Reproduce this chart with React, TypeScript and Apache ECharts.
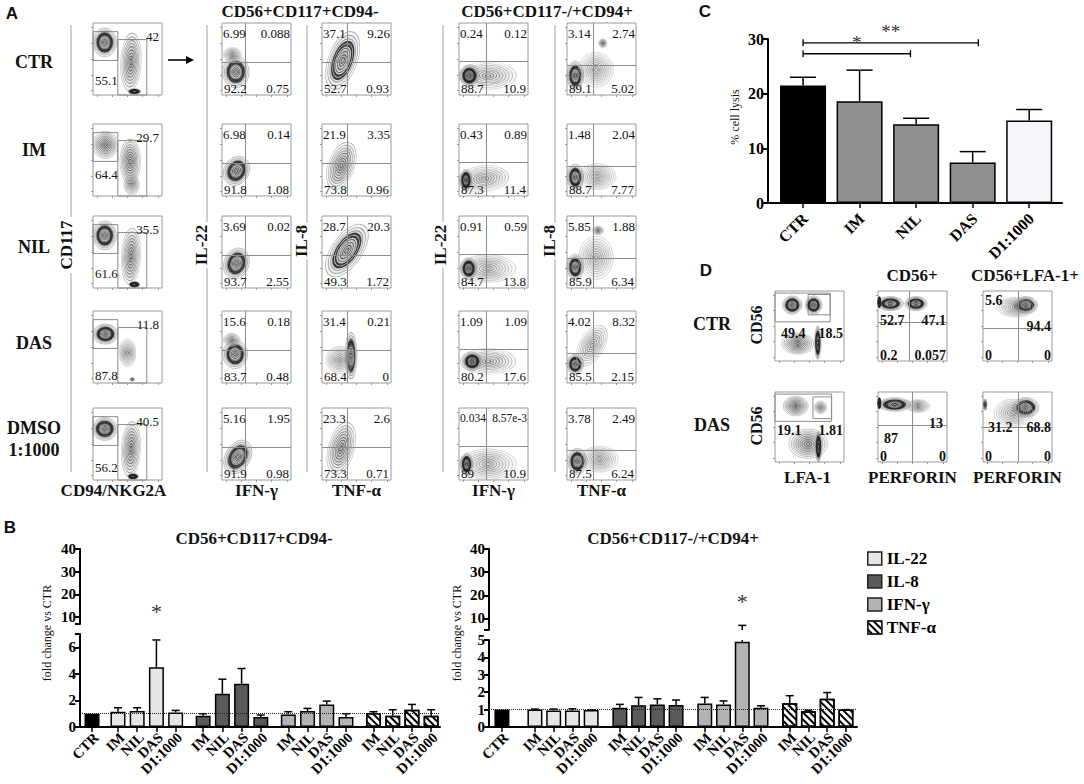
import React, { useEffect, useRef } from "react";
import * as echarts from "echarts";

const SERIF = "'Liberation Serif','Times New Roman',serif";
const SANS = "'Liberation Sans',Arial,sans-serif";

// ---------------- Panel A data ----------------
const rowNamesA = ["CTR", "IM", "NIL", "DAS", "DMSO"];
const colTitlesA = ["CD56+CD117+CD94-", "CD56+CD117-/+CD94+"];
const yLabelsA = ["CD117", "IL-22", "IL-8", "IL-22", "IL-8"];
const xLabelsA = ["CD94/NKG2A", "IFN-γ", "TNF-α", "IFN-γ", "TNF-α"];
const gatePctCol1 = [["42", "55.1"], ["29.7", "64.4"], ["35.5", "61.6"], ["11.8", "87.8"], ["40.5", "56.2"]];
const quadIL22a = [["6.99", "0.088", "92.2", "0.75"], ["6.98", "0.14", "91.8", "1.08"], ["3.69", "0.02", "93.7", "2.55"], ["15.6", "0.18", "83.7", "0.48"], ["5.16", "1.95", "91.9", "0.98"]];
const quadIL8a = [["37.1", "9.26", "52.7", "0.93"], ["21.9", "3.35", "73.8", "0.96"], ["28.7", "20.3", "49.3", "1.72"], ["31.4", "0.21", "68.4", "0"], ["23.3", "2.6", "73.3", "0.71"]];
const quadIL22b = [["0.24", "0.12", "88.7", "10.9"], ["0.43", "0.89", "87.3", "11.4"], ["0.91", "0.59", "84.7", "13.8"], ["1.09", "1.09", "80.2", "17.6"], ["0.034", "8.57e-3", "89", "10.9"]];
const quadIL8b = [["3.14", "2.74", "89.1", "5.02"], ["1.48", "2.04", "88.7", "7.77"], ["5.85", "1.88", "85.9", "6.34"], ["4.02", "8.32", "85.5", "2.15"], ["3.78", "2.49", "87.5", "6.24"]];
const quadXA = [null, 34, 37, 40, 38];
const quadYA = [null, 45, 45, 47, 42];
const gatesCol1 = [[0, 36, 48, 88], [36, 78, 0, 77]];
// contour blobs: [cx, cy, w, h, rotation, density]
const blobsCol1 = [
  [[17, 73, 34, 40, 0, 2], [55, 46, 30, 80, -3, 1], [60, 5, 18, 8, 0, 2]],
  [[18, 71, 36, 38, 0, 1], [54, 48, 30, 62, 0, 1], [56, 16, 22, 30, 0, 0]],
  [[17, 73, 34, 40, 0, 2], [55, 44, 28, 78, -3, 1], [60, 5, 16, 8, 0, 2]],
  [[18, 68, 36, 28, 0, 2], [50, 42, 24, 38, 0, 0], [57, 5, 7, 5, 0, 0]],
  [[17, 71, 36, 32, 0, 2], [55, 43, 28, 76, -3, 1], [58, 5, 16, 8, 0, 2]],
];
const blobsCol2 = [
  [[20, 32, 38, 44, 0, 2], [15, 56, 26, 20, 0, 0]],
  [[21, 35, 36, 42, -30, 2]],
  [[21, 34, 36, 44, -20, 2]],
  [[19, 40, 36, 40, 0, 2], [14, 60, 24, 18, 0, 0]],
  [[23, 32, 36, 50, -30, 2]],
];
const blobsCol3 = [
  [[30, 48, 42, 84, -20, 2]],
  [[28, 42, 38, 68, -20, 1]],
  [[36, 52, 44, 84, -35, 2]],
  [[42, 38, 18, 64, 0, 2], [26, 32, 40, 38, 0, 0]],
  [[28, 44, 38, 74, -15, 1]],
];
const blobsCol4 = [
  [[42, 27, 82, 38, 0, 0], [15, 27, 28, 30, 0, 2]],
  [[36, 24, 72, 36, 5, 0], [10, 22, 18, 30, 0, 2]],
  [[42, 27, 80, 38, 0, 0], [14, 27, 24, 30, 0, 2]],
  [[42, 30, 80, 36, 0, 0], [19, 30, 28, 26, 0, 2]],
  [[42, 22, 82, 42, 0, 0], [11, 22, 18, 30, 0, 2]],
];
const blobsCol5 = [
  [[12, 27, 24, 40, 0, 2], [42, 35, 50, 48, 0, 0], [52, 72, 12, 12, 0, 0]],
  [[12, 26, 24, 36, 0, 2], [44, 27, 54, 36, 0, 0]],
  [[12, 29, 24, 36, 0, 2], [42, 42, 50, 60, 0, 0], [45, 80, 16, 12, 0, 0]],
  [[12, 26, 24, 28, 0, 2], [36, 52, 36, 62, -30, 0]],
  [[15, 26, 28, 36, 0, 2], [47, 29, 54, 36, 0, 0]],
];

// ---------------- Panel B data ----------------
const condNames = ["CTR", "IM", "NIL", "DAS", "D1:1000"];
const cytokines = ["IL-22", "IL-8", "IFN-γ", "TNF-α"];
const bCtrValue = 1.0;
const bLeftMean = [[1.15, 1.2, 4.5, 1.1], [0.85, 2.5, 3.25, 0.75], [0.95, 1.2, 1.7, 0.75], [1.05, 0.85, 1.3, 0.85]];
const bLeftErr = [[1.45, 1.45, 6.55, 1.25], [1.0, 3.6, 4.4, 0.9], [1.15, 1.4, 1.95, 1.0], [1.15, 1.3, 1.7, 1.3]];
const bRightMean = [[1.0, 0.95, 0.95, 0.97], [1.1, 1.25, 1.3, 1.27], [1.35, 1.3, 4.9, 1.1], [1.37, 0.9, 1.62, 1.0]];
const bRightErr = [[1.03, 1.03, 1.05, 0.99], [1.3, 1.7, 1.62, 1.55], [1.7, 1.5, 7.0, 1.22], [1.8, 0.97, 1.98, 1.0]];
const bLeftSig = [[0, 2, 12.7]]; // [cytokine, condition, star y]
const bRightSig = [[2, 2, 17.1]];

// ---------------- Panel C data ----------------
const lysisCats = ["CTR", "IM", "NIL", "DAS", "D1:1000"];
const lysisMean = [21.5, 18.6, 14.4, 7.4, 15.1];
const lysisErr = [23.0, 24.3, 15.5, 9.4, 17.1];
const lysisSig = [[0, 3.1, 29.3], [0, 1.9, 27.3]];
const lysisSigText = ["**", "*"];

// ---------------- Panel D data ----------------
const dRows = ["CTR", "DAS"];
const dTitles = ["CD56+", "CD56+LFA-1+"];
const dXLabels = ["LFA-1", "PERFORIN", "PERFORIN"];
const dNumbers = [
  [["49.4", "18.5"], ["52.7", "47.1", "0.2", "0.057"], ["5.6", "94.4", "0", "0"]],
  [["19.1", "1.81"], ["13", "87", "0", "0"], ["31.2", "68.8", "0", "0"]],
];
const dQuadX = [[null, 46, 51], [null, 50, 51]];
const dQuadY = [[null, 56, 47], [null, 53, 49]];
const dGates = [[[0, 80, 56, 97], [48, 80, 66, 95]], [[0, 82, 58, 97], [55, 82, 62, 93]]];
const dBlobs = [
  [
    [[25, 80, 28, 26, 0, 2], [56, 80, 24, 26, 0, 2], [33, 25, 46, 30, 0, 1], [62, 26, 10, 46, 0, 2]],
    [[18, 82, 38, 20, 0, 2], [55, 82, 32, 20, 0, 2], [2, 84, 5, 16, 0, 2]],
    [[62, 80, 34, 24, 0, 2], [48, 77, 56, 28, 0, 0]],
  ],
  [
    [[30, 80, 36, 28, 0, 1], [66, 78, 18, 18, 0, 0], [48, 26, 56, 42, 0, 1], [63, 22, 10, 42, 0, 2]],
    [[24, 82, 46, 20, 0, 2], [58, 80, 34, 18, 0, 0], [2, 84, 5, 16, 0, 2]],
    [[62, 78, 38, 28, 0, 2], [44, 70, 56, 40, 0, 0], [3, 82, 6, 16, 0, 1]],
  ],
];

// ---------------- layout ----------------
const A_LEFT = [93, 222, 322, 459, 567];
const A_TOP = [23, 124, 216, 311, 408];
const PW = 69;
const PH = 72;
const D_LEFT = [775, 878, 983];
const D_TOP = [291, 392];
const DW = 69;
const DH = 70;
// layout of numbers in D plots: [dx, dy, align] ("r" offsets from right, negative dy from bottom)
const dNumLayout = [
  [[[6, 42, "l"], [1, 42, "r"]], [[2, 29, "l"], [1, 29, "r"], [2, -6, "l"], [1, -6, "r"]], [[2, 9, "l"], [1, 35, "r"], [2, -6, "l"], [1, -6, "r"]]],
  [[[2, 38, "l"], [1, 38, "r"]], [[4, 31, "r"], [6, 46, "l"], [2, -6, "l"], [1, -6, "r"]], [[5, 35, "l"], [1, 35, "r"], [2, -6, "l"], [1, -6, "r"]]],
];

const ELLIPSE = "path://M0,50 C0,22 22,0 50,0 C78,0 100,22 100,50 C100,78 78,100 50,100 C22,100 0,78 0,50 Z";
const RINGS = [1, 0.87, 0.75, 0.64, 0.53, 0.42, 0.31, 0.2, 0.1];
const HATCH = { symbol: "rect", symbolSize: 1, color: "#000", dashArrayX: [1, 0], dashArrayY: [1.3, 2.4], rotation: Math.PI / 4 };
const CYT_COLORS = ["#e6e6e6", "#5a5a5a", "#b3b3b3", "#ffffff"];

function ringItems(b: number[], W: number, H: number) {
  const [cx, cy, w, h, rot, dens] = b;
  const out: any[] = [];
  RINGS.forEach((f, k) => {
    let shade = dens === 0 ? 185 - k * 12 : dens === 1 ? 165 - k * 16 : 150 - k * 18;
    shade = Math.max(25, shade);
    const thick = dens === 2 && (k === 3 || k === 4);
    out.push({
      value: [cx, cy],
      symbolSize: [Math.max(2, (w / 100) * W * f), Math.max(2, (h / 100) * H * f)],
      symbolRotate: rot,
      itemStyle: {
        color: dens === 0 ? "rgba(70,70,70,0.035)" : "rgba(60,60,60,0.06)",
        borderColor: thick ? "#151515" : `rgb(${shade},${shade},${shade})`,
        borderWidth: thick ? 1.8 : 0.7,
      },
    });
  });
  return out;
}

function buildOption() {
  const grids: any[] = [];
  const xAxes: any[] = [];
  const yAxes: any[] = [];
  const series: any[] = [];
  const g: any[] = [];

  const text = (x: number, y: number, s: string, o: any = {}) =>
    g.push({
      type: "text",
      x,
      y,
      rotation: o.rot || 0,
      silent: true,
      z: 100,
      style: {
        text: s,
        fontFamily: o.ff || SERIF,
        fontSize: o.fs || 13,
        fontWeight: o.fw || "normal",
        fill: o.fill || "#111",
        align: o.align || "left",
        verticalAlign: o.va || "middle",
      },
    });
  const line = (x1: number, y1: number, x2: number, y2: number, stroke = "#a0a0a0", w = 1) =>
    g.push({ type: "line", silent: true, z: 100, shape: { x1, y1, x2, y2 }, style: { stroke, lineWidth: w } });

  // rotated category labels drawn at the axis positions through the grid's scale
  function axisTextSeries(gi: number, pos: number[], labels: string[], dx: number, dy: number, fs: number) {
    series.push({
      type: "custom",
      xAxisIndex: gi,
      yAxisIndex: gi,
      silent: true,
      clip: false,
      z: 5,
      data: pos.map((x) => [x, 0]),
      renderItem: (p: any, api: any) => {
        const c = api.coord([api.value(0), 0]);
        return {
          type: "text",
          x: c[0] + dx,
          y: c[1] + dy,
          rotation: Math.PI / 4,
          style: { text: labels[p.dataIndex], fontFamily: SERIF, fontWeight: "bold", fontSize: fs, fill: "#000", align: "right", verticalAlign: "middle" },
        };
      },
    });
  }

  function addFlow(L: number, T: number, W: number, H: number, blobs: number[][], qx: any, qy: any, gates: any) {
    const idx = grids.length;
    grids.push({ left: L, top: T, width: W, height: H, show: true, borderColor: "#9a9a9a", borderWidth: 1, backgroundColor: "rgba(0,0,0,0)", outerBoundsMode: "none" });
    const ax = {
      gridIndex: idx,
      type: "value",
      min: 0,
      max: 100,
      axisLine: { show: false, onZero: false },
      splitLine: { show: false },
      axisLabel: { show: false },
      axisTick: { show: true, length: 2, lineStyle: { color: "#999", width: 1 }, customValues: [6, 28, 50, 72, 94] },
    };
    xAxes.push({ ...ax });
    yAxes.push({ ...ax });
    const data: any[] = [];
    blobs.forEach((b) => data.push(...ringItems(b, W, H)));
    const s: any = { type: "scatter", xAxisIndex: idx, yAxisIndex: idx, symbol: ELLIPSE, data, silent: true, z: 2 };
    if (qx != null)
      s.markLine = {
        silent: true,
        symbol: ["none", "none"],
        label: { show: false },
        lineStyle: { color: "#8c8c8c", width: 1, type: "solid" },
        data: [{ xAxis: qx }, { yAxis: qy }],
      };
    if (gates)
      s.markArea = {
        silent: true,
        label: { show: false },
        itemStyle: { color: "rgba(0,0,0,0)", borderColor: "#8c8c8c", borderWidth: 1 },
        data: gates.map((q: number[]) => [{ xAxis: q[0], yAxis: q[2] }, { xAxis: q[1], yAxis: q[3] }]),
      };
    series.push(s);
  }

  // ============ Panel A ============
  text(12, 13, "A", { ff: SANS, fw: "bold", fs: 17, align: "center" });
  text(300, 11, colTitlesA[0], { fw: "bold", fs: 17, align: "center" });
  text(547, 11, colTitlesA[1], { fw: "bold", fs: 17, align: "center" });
  const rowY = [62, 150, 247, 343, 428];
  rowNamesA.forEach((n, r) => text(34, rowY[r], n, { fw: "bold", fs: 18, align: "center" }));
  text(34, 450, "1:1000", { fw: "bold", fs: 18, align: "center" });

  const sepX = [71, 207, 307, 443, 555];
  const labX = [66, 201, 301, 440, 549];
  const labY = [245, 245, 241, 245, 241];
  const halfLen = [28, 23, 18, 23, 18];
  yLabelsA.forEach((lab, c) => {
    line(sepX[c], 25, sepX[c], labY[c] - halfLen[c]);
    line(sepX[c], labY[c] + halfLen[c], sepX[c], 472);
    text(labX[c], labY[c], lab, { fw: "bold", fs: 17, align: "center", rot: Math.PI / 2 });
  });
  xLabelsA.forEach((lab, c) => text(A_LEFT[c] + PW / 2 - (c === 0 ? 14 : 0), 490, lab, { fw: "bold", fs: 17, align: "center" }));
  // arrow
  line(168, 60, 188, 60, "#000", 1.6);
  g.push({ type: "polygon", silent: true, shape: { points: [[194, 60], [186, 56], [186, 64]] }, style: { fill: "#000" } });

  const colBlobs = [blobsCol1, blobsCol2, blobsCol3, blobsCol4, blobsCol5];
  const colQuads = [null, quadIL22a, quadIL8a, quadIL22b, quadIL8b];
  const col1NumY = [57, 50, 57, 64, 59];
  for (let c = 0; c < 5; c++) {
    for (let r = 0; r < 5; r++) {
      const L = A_LEFT[c];
      const T = A_TOP[r];
      addFlow(L, T, PW, PH, colBlobs[c][r], quadXA[c], quadYA[c], c === 0 ? gatesCol1 : null);
      if (c === 0) {
        text(L + PW - 3, T + 13, gatePctCol1[r][0], { align: "right" });
        text(L + 2, T + col1NumY[r], gatePctCol1[r][1]);
      } else {
        const q = (colQuads[c] as string[][])[r];
        const long = q[0].length + q[1].length > 10;
        const fs = long ? 11.5 : 13;
        text(L + 1, T + 10, q[0], { fs });
        text(L + PW - 1, T + 10, q[1], { align: "right", fs });
        text(L + 2, T + PH - 7, q[2]);
        text(L + PW - 2, T + PH - 7, q[3], { align: "right" });
      }
    }
  }

  // ============ Panel D ============
  text(706, 270, "D", { ff: SANS, fw: "bold", fs: 17, align: "center" });
  text(912, 275, dTitles[0], { fw: "bold", fs: 17, align: "center" });
  text(1025, 275, dTitles[1], { fw: "bold", fs: 17, align: "center" });
  dXLabels.forEach((l, c) => text(D_LEFT[c] + DW / 2 + (c === 0 ? -2 : 0), 477, l, { fw: "bold", fs: 17, align: "center" }));
  for (let r = 0; r < 2; r++) {
    text(712, D_TOP[r] + 33, dRows[r], { fw: "bold", fs: 18, align: "center" });
    text(756, D_TOP[r] + 34, "CD56", { fw: "bold", fs: 16, align: "center", rot: Math.PI / 2 });
    for (let c = 0; c < 3; c++) {
      const L = D_LEFT[c];
      const T = D_TOP[r];
      addFlow(L, T, DW, DH, dBlobs[r][c], dQuadX[r][c], dQuadY[r][c], c === 0 ? dGates[r] : null);
      dNumbers[r][c].forEach((s, k) => {
        const [dx, dy, al] = dNumLayout[r][c][k] as any[];
        const x = al === "r" ? L + DW - dx : L + dx;
        const y = dy < 0 ? T + DH + dy : T + dy;
        text(x, y, s, { fw: "bold", fs: 14, align: al === "r" ? "right" : "left" });
      });
    }
  }

  // ============ Panel B ============
  text(10, 527, "B", { ff: SANS, fw: "bold", fs: 17, align: "center" });
  function addFold(cfg: any) {
    const { left, width, lowTop, lowH, upTop, upH, lowMax, upMin, xmin, xmax, gap, stride, means, errs, lowTicks, lowLabels, sig } = cfg;
    const pos: number[] = [0];
    const labels: string[] = [condNames[0]];
    const items: any[] = [{ value: [0, bCtrValue], itemStyle: { color: "#000" } }];
    const errData: number[][] = [];
    for (let c = 0; c < 4; c++) {
      for (let i = 0; i < 4; i++) {
        const x = gap + c * stride + i;
        pos.push(x);
        labels.push(condNames[i + 1]);
        items.push({ value: [x, means[c][i]], itemStyle: c === 3 ? { color: "#fff", decal: HATCH } : { color: CYT_COLORS[c] } });
        errData.push([x, means[c][i], errs[c][i]]);
      }
    }
    const iLow = grids.length;
    grids.push({ left, top: lowTop, width, height: lowH, outerBoundsMode: "none" });
    const iUp = grids.length;
    grids.push({ left, top: upTop, width, height: upH, outerBoundsMode: "none" });
    xAxes.push({
      gridIndex: iLow,
      type: "value",
      min: xmin,
      max: xmax,
      splitLine: { show: false },
      axisLine: { show: true, onZero: false, lineStyle: { color: "#000", width: 2 } },
      axisTick: { show: true, customValues: pos, length: 5, lineStyle: { color: "#000", width: 1.5 } },
      axisLabel: { show: false },
    });
    xAxes.push({ gridIndex: iUp, type: "value", min: xmin, max: xmax, show: false });
    const yStyle = {
      type: "value",
      splitLine: { show: false },
      axisLine: { show: true, onZero: false, lineStyle: { color: "#000", width: 2 } },
    };
    yAxes.push({
      ...yStyle,
      gridIndex: iLow,
      min: 0,
      max: lowMax,
      axisTick: { show: true, customValues: lowTicks, length: 5, lineStyle: { color: "#000", width: 2 } },
      axisLabel: { customValues: lowLabels, showMinLabel: true, showMaxLabel: true, fontFamily: SERIF, fontWeight: "bold", fontSize: 15, color: "#000", margin: 4 },
    });
    yAxes.push({
      ...yStyle,
      gridIndex: iUp,
      min: upMin,
      max: 40,
      axisTick: { show: true, customValues: [upMin, 10, 20, 30, 40], length: 5, lineStyle: { color: "#000", width: 2 } },
      axisLabel: { customValues: [10, 20, 30, 40], showMinLabel: true, showMaxLabel: true, fontFamily: SERIF, fontWeight: "bold", fontSize: 15, color: "#000", margin: 4 },
    });
    series.push({
      type: "bar",
      xAxisIndex: iLow,
      yAxisIndex: iLow,
      barWidth: 15,
      silent: true,
      data: items,
      itemStyle: { borderColor: "#000", borderWidth: 1.5 },
      markLine: {
        silent: true,
        symbol: ["none", "none"],
        label: { show: false },
        lineStyle: { type: "dotted", color: "#222", width: 1 },
        data: [{ yAxis: 1 }],
      },
      z: 3,
    });
    axisTextSeries(iLow, pos, labels, 4, 8, 14.5);
    const seg = (x1: number, y1: number, x2: number, y2: number, w = 1.5) => ({ type: "line", shape: { x1, y1, x2, y2 }, style: { stroke: "#000", lineWidth: w } });
    series.push({
      type: "custom",
      xAxisIndex: iLow,
      yAxisIndex: iLow,
      silent: true,
      clip: false,
      z: 4,
      data: errData,
      renderItem: (p: any, api: any) => {
        const x = api.value(0);
        const m = api.value(1);
        const e = api.value(2);
        const a = api.coord([x, m]);
        const b = api.coord([x, Math.min(e, lowMax)]);
        const ch: any[] = [seg(a[0], a[1], b[0], b[1])];
        if (e <= lowMax) ch.push(seg(b[0] - 4, b[1], b[0] + 4, b[1]));
        return { type: "group", children: ch };
      },
    });
    series.push({
      type: "custom",
      xAxisIndex: iUp,
      yAxisIndex: iUp,
      silent: true,
      clip: false,
      z: 4,
      data: errData.filter((d) => d[2] > upMin),
      renderItem: (p: any, api: any) => {
        const x = api.value(0);
        const e = api.value(2);
        const a = api.coord([x, upMin]);
        const b = api.coord([x, e]);
        return { type: "group", children: [seg(a[0], a[1], b[0], b[1]), seg(b[0] - 4, b[1], b[0] + 4, b[1])] };
      },
    });
    series.push({
      type: "custom",
      xAxisIndex: iUp,
      yAxisIndex: iUp,
      silent: true,
      clip: false,
      z: 4,
      data: sig.map((s: number[]) => [gap + s[0] * stride + s[1], s[2]]),
      renderItem: (p: any, api: any) => {
        const c = api.coord([api.value(0), api.value(1)]);
        return { type: "text", x: c[0], y: c[1], style: { text: "*", fontFamily: SERIF, fontSize: 22, fill: "#333", align: "center", verticalAlign: "middle" } };
      },
    });
  }
  addFold({
    left: 80, width: 360, lowTop: 634, lowH: 93, upTop: 549, upH: 75, lowMax: 7, upMin: 7,
    xmin: -0.625, xmax: 18.1, gap: 1.35, stride: 4.43, means: bLeftMean, errs: bLeftErr,
    lowTicks: [0, 2, 4, 6, 7], lowLabels: [0, 2, 4, 6], sig: bLeftSig,
  });
  addFold({
    left: 489, width: 368, lowTop: 640, lowH: 87, upTop: 549, upH: 81, lowMax: 5, upMin: 5,
    xmin: -0.69, xmax: 18.94, gap: 1.76, stride: 4.53, means: bRightMean, errs: bRightErr,
    lowTicks: [0, 1, 2, 3, 4, 5], lowLabels: [0, 1, 2, 3, 4, 5], sig: bRightSig,
  });
  text(254, 538, colTitlesA[0], { fw: "bold", fs: 17, align: "center" });
  text(673, 538, colTitlesA[1], { fw: "bold", fs: 17, align: "center" });
  text(47, 633, "fold change vs CTR", { fs: 12, align: "center", rot: Math.PI / 2 });
  text(457, 633, "fold change vs CTR", { fs: 12, align: "center", rot: Math.PI / 2 });

  // legend dummy series on hidden grid
  const iHid = grids.length;
  grids.push({ left: 0, top: 0, width: 1, height: 1, show: false, outerBoundsMode: "none" });
  xAxes.push({ gridIndex: iHid, type: "value", show: false });
  yAxes.push({ gridIndex: iHid, type: "value", show: false });
  cytokines.forEach((name, c) =>
    series.push({
      type: "bar",
      name,
      xAxisIndex: iHid,
      yAxisIndex: iHid,
      data: [],
      itemStyle: c === 3 ? { color: "#fff", decal: HATCH, borderColor: "#000", borderWidth: 1.5 } : { color: CYT_COLORS[c], borderColor: "#000", borderWidth: 1.5 },
    })
  );

  // ============ Panel C ============
  text(705, 11, "C", { ff: SANS, fw: "bold", fs: 17, align: "center" });
  const iC = grids.length;
  const cPos = lysisCats.map((_, i) => i);
  grids.push({ left: 768, top: 39, width: 294, height: 164, outerBoundsMode: "none" });
  xAxes.push({
    gridIndex: iC,
    type: "value",
    min: -0.62,
    max: 4.58,
    splitLine: { show: false },
    axisLine: { show: true, onZero: false, lineStyle: { color: "#000", width: 2 } },
    axisTick: { show: true, customValues: cPos, length: 5, lineStyle: { color: "#000", width: 1.5 } },
    axisLabel: { show: false },
  });
  yAxes.push({
    gridIndex: iC,
    type: "value",
    min: 0,
    max: 30,
    interval: 10,
    splitLine: { show: false },
    axisLine: { show: true, onZero: false, lineStyle: { color: "#000", width: 2 } },
    axisTick: { show: true, length: 5, lineStyle: { color: "#000", width: 2 } },
    axisLabel: { fontFamily: SERIF, fontWeight: "bold", fontSize: 16, color: "#000", margin: 4 },
  });
  const cColors = ["#000", "#8f8f8f", "#8f8f8f", "#8f8f8f", "#f6f6fb"];
  series.push({
    type: "bar",
    xAxisIndex: iC,
    yAxisIndex: iC,
    barWidth: 46,
    silent: true,
    data: lysisMean.map((v, i) => ({ value: [i, v], itemStyle: { color: cColors[i] } })),
    itemStyle: { borderColor: "#000", borderWidth: 1.5 },
    z: 3,
  });
  axisTextSeries(iC, cPos, lysisCats, 2, 13, 16);
  const segC = (x1: number, y1: number, x2: number, y2: number, w = 1.5) => ({ type: "line", shape: { x1, y1, x2, y2 }, style: { stroke: "#000", lineWidth: w } });
  series.push({
    type: "custom",
    xAxisIndex: iC,
    yAxisIndex: iC,
    silent: true,
    clip: false,
    z: 4,
    data: lysisMean.map((v, i) => [i, v, lysisErr[i]]),
    renderItem: (p: any, api: any) => {
      const a = api.coord([api.value(0), api.value(1)]);
      const b = api.coord([api.value(0), api.value(2)]);
      return { type: "group", children: [segC(a[0], a[1], b[0], b[1]), segC(b[0] - 13, b[1], b[0] + 13, b[1])] };
    },
  });
  series.push({
    type: "custom",
    xAxisIndex: iC,
    yAxisIndex: iC,
    silent: true,
    clip: false,
    z: 4,
    data: lysisSig,
    renderItem: (p: any, api: any) => {
      const a = api.coord([api.value(0), api.value(2)]);
      const b = api.coord([api.value(1), api.value(2)]);
      return {
        type: "group",
        children: [
          segC(a[0], a[1], b[0], b[1], 1.3),
          segC(a[0], a[1] - 3.5, a[0], a[1] + 3.5, 1.3),
          segC(b[0], b[1] - 3.5, b[0], b[1] + 3.5, 1.3),
          {
            type: "text",
            x: (a[0] + b[0]) / 2,
            y: a[1] - 2,
            style: { text: lysisSigText[p.dataIndex], fontFamily: SERIF, fontSize: 19, fill: "#333", align: "center", verticalAlign: "bottom" },
          },
        ],
      };
    },
  });
  text(735, 117, "% cell lysis", { fs: 12, align: "center", rot: Math.PI / 2 });

  return {
    animation: false,
    backgroundColor: "#ffffff",
    grid: grids,
    xAxis: xAxes,
    yAxis: yAxes,
    series,
    legend: {
      data: cytokines,
      orient: "vertical",
      left: 862,
      top: 545,
      itemWidth: 14,
      itemHeight: 13,
      itemGap: 6,
      icon: "rect",
      selectedMode: false,
      itemStyle: { borderColor: "#222", borderWidth: 1.5 },
      textStyle: { fontFamily: SERIF, fontWeight: "bold", fontSize: 17, color: "#000" },
    },
    graphic: { elements: g },
  };
}

export default function App() {
  const ref = useRef<HTMLDivElement>(null);
  useEffect(() => {
    document.body.style.margin = "0";
    const chart = echarts.init(ref.current as HTMLDivElement, undefined, { renderer: "svg", width: 1084, height: 784 });
    chart.setOption(buildOption() as any);
    return () => chart.dispose();
  }, []);
  return <div ref={ref} style={{ width: 1084, height: 784, background: "#fff" }} />;
}
